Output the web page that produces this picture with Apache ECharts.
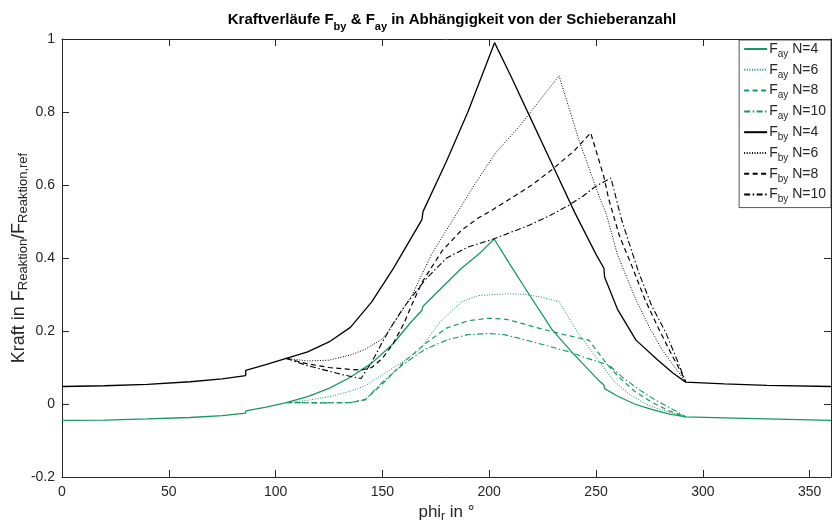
<!DOCTYPE html>
<html>
<head>
<meta charset="utf-8">
<script src="https://cdn.jsdelivr.net/npm/echarts@6.0.0/dist/echarts.min.js"></script>
<style>
  html, body { margin: 0; padding: 0; background: #fff; }
  #chart { width: 832px; height: 531px; }
</style>
</head>
<body>
<div id="chart"></div>
<script>
(function () {
  'use strict';

  // F_ay (green)
  var phiAy4 = [0, 20, 40, 60, 75, 86, 86, 95, 105, 115, 125, 134.6, 145, 155, 163, 168.5, 169, 178, 187, 195, 202.3, 210, 218.7, 229.5, 239, 251, 253.7, 254, 260, 268, 276, 284, 292, 310, 330, 360];
  var ay4 = [-0.045, -0.044, -0.041, -0.037, -0.032, -0.025, -0.019, -0.009, 0.004, 0.02, 0.043, 0.072, 0.112, 0.165, 0.222, 0.257, 0.268, 0.32, 0.372, 0.41, 0.452, 0.38, 0.30, 0.203, 0.14, 0.066, 0.052, 0.042, 0.022, 0.0, -0.015, -0.027, -0.035, -0.038, -0.041, -0.045];
  var phiAy6 = [105, 115, 125, 135, 142, 150, 158, 167, 177, 187, 195, 203, 210, 217, 225, 232.7, 241, 251, 258, 266, 275, 284, 292];
  var ay6 = [0.004, 0.01, 0.02, 0.035, 0.05, 0.08, 0.11, 0.145, 0.225, 0.28, 0.297, 0.30, 0.302, 0.30, 0.292, 0.28, 0.2, 0.12, 0.065, 0.025, -0.005, -0.022, -0.035];
  var phiAy8 = [105, 120, 135, 142, 150, 160, 170, 180, 190, 200, 208, 215.6, 225, 235, 246.7, 254.7, 260.7, 268, 276, 284, 292];
  var ay8 = [0.004, 0.003, 0.004, 0.012, 0.055, 0.115, 0.165, 0.208, 0.228, 0.235, 0.232, 0.22, 0.205, 0.19, 0.175, 0.112, 0.074, 0.035, 0.005, -0.018, -0.035];
  var phiAy10 = [105, 120, 135, 142, 150, 160, 170, 180, 190, 200, 207, 214, 225, 237.4, 246, 253, 256, 262, 270, 278, 286, 292];
  var ay10 = [0.004, 0.003, 0.004, 0.012, 0.06, 0.11, 0.15, 0.175, 0.19, 0.193, 0.19, 0.18, 0.163, 0.143, 0.125, 0.112, 0.107, 0.075, 0.04, 0.01, -0.015, -0.035];

  // F_by (black)
  var phiBy4 = [0, 20, 40, 60, 75, 86, 86, 95, 105, 115, 125, 135, 145, 155, 162, 168.5, 169, 180, 190, 195.3, 202.5, 210, 220, 230, 240, 250, 253.7, 254, 260, 268.7, 279, 286, 292, 310, 330, 360];
  var by4 = [0.048, 0.050, 0.054, 0.061, 0.069, 0.078, 0.092, 0.107, 0.125, 0.143, 0.17, 0.21, 0.28, 0.37, 0.44, 0.505, 0.527, 0.665, 0.8, 0.88, 0.99, 0.9, 0.775, 0.65, 0.525, 0.41, 0.372, 0.348, 0.26, 0.175, 0.12, 0.085, 0.06, 0.055, 0.051, 0.048];
  var phiBy6 = [105, 115, 125, 135, 142, 150, 157, 164, 173, 183, 193, 203, 214, 223, 232.7, 242, 252, 254.7, 260, 268.7, 275, 281, 287, 292];
  var by6 = [0.125, 0.118, 0.12, 0.134, 0.15, 0.178, 0.235, 0.30, 0.41, 0.505, 0.6, 0.688, 0.76, 0.827, 0.899, 0.723, 0.56, 0.523, 0.41, 0.285, 0.21, 0.148, 0.1, 0.06];
  var phiBy8 = [105, 115, 125, 134.6, 140, 145, 150, 155, 160, 164, 168.7, 178, 187, 195, 201, 210, 220, 230, 240, 247.5, 253.7, 256, 261, 267, 273, 279, 285, 290, 292];
  var by8 = [0.125, 0.11, 0.1, 0.095, 0.093, 0.1, 0.125, 0.165, 0.22, 0.275, 0.335, 0.42, 0.476, 0.51, 0.53, 0.563, 0.6, 0.645, 0.695, 0.743, 0.622, 0.56, 0.46, 0.375, 0.285, 0.21, 0.14, 0.085, 0.06];
  var phiBy10 = [105, 115, 125, 133, 140, 145, 150, 155, 160, 170, 180, 190, 202, 210, 218.7, 228, 237.4, 244, 250, 257, 262, 270, 276, 282.7, 288, 292];
  var by10 = [0.125, 0.105, 0.09, 0.078, 0.07, 0.115, 0.17, 0.22, 0.265, 0.34, 0.40, 0.43, 0.452, 0.47, 0.49, 0.515, 0.545, 0.57, 0.597, 0.619, 0.504, 0.36, 0.27, 0.195, 0.12, 0.06];

  var legendSub = ['ay', 'ay', 'ay', 'ay', 'by', 'by', 'by', 'by'];
  var legendN = ['N=4', 'N=6', 'N=8', 'N=10', 'N=4', 'N=6', 'N=8', 'N=10'];

  var GREEN = '#17995f';
  var INK = '#262626';
  var FONT = '"Liberation Sans", Arial, Helvetica, sans-serif';

  var DOT = [1, 1.6];
  var DASH = [5, 3.5];
  var DASHDOT = [6, 2.5, 1.5, 2.5];

  function pairs(xs, ys) {
    return xs.map(function (x, i) { return [x, ys[i]]; });
  }

  function line(name, xs, ys, color, type, width) {
    return {
      name: name,
      type: 'line',
      data: pairs(xs, ys),
      symbol: 'none',
      showSymbol: false,
      silent: true,
      itemStyle: { color: color },
      lineStyle: { color: color, width: width, type: type }
    };
  }

  var series = [
    line('ay4', phiAy4, ay4, GREEN, 'solid', 1.3),
    line('ay6', phiAy6, ay6, GREEN, DOT, 1),
    line('ay8', phiAy8, ay8, GREEN, DASH, 1.2),
    line('ay10', phiAy10, ay10, GREEN, DASHDOT, 1.1),
    line('by4', phiBy4, by4, '#000', 'solid', 1.3),
    line('by6', phiBy6, by6, '#000', DOT, 1),
    line('by8', phiBy8, by8, '#000', DASH, 1.2),
    line('by10', phiBy10, by10, '#000', DASHDOT, 1.1)
  ];
  var names = series.map(function (s) { return s.name; });

  var chart = echarts.init(document.getElementById('chart'));
  chart.setOption({
    animation: false,
    backgroundColor: '#fff',
    title: {
      text: '{m|Kraftverläufe F}{s|by}{m| & F}{s|ay}{m| in Abhängigkeit von der Schieberanzahl}',
      left: 447,
      top: 3,
      textAlign: 'center',
      textStyle: {
        rich: {
          m: { fontFamily: FONT, fontSize: 15, fontWeight: 'bold', color: '#000', lineHeight: 24 },
          s: { fontFamily: FONT, fontSize: 11, fontWeight: 'bold', color: '#000', lineHeight: 8, verticalAlign: 'bottom' }
        }
      }
    },
    legend: {
      data: names,
      orient: 'vertical',
      right: 1,
      top: 40,
      padding: [2, 5, 3, 4],
      itemWidth: 23,
      itemHeight: 12,
      itemGap: 3.8,
      backgroundColor: '#fff',
      borderColor: INK,
      borderWidth: 0.8,
      borderRadius: 0,
      itemStyle: { opacity: 0, borderWidth: 0 },
      formatter: function (name) {
        var i = names.indexOf(name);
        return '{m|F}{s|' + legendSub[i] + '}{m| ' + legendN[i] + '}';
      },
      textStyle: {
        padding: [0, 0, 0, -3],
        rich: {
          m: { fontFamily: FONT, fontSize: 14, color: INK, lineHeight: 20 },
          s: { fontFamily: FONT, fontSize: 10, color: INK, lineHeight: 4, verticalAlign: 'bottom' }
        }
      }
    },
    grid: { left: 62, right: 1, top: 39, bottom: 54, containLabel: false, outerBoundsMode: 'none' },
    xAxis: [{
      type: 'value',
      min: 0,
      max: 360,
      interval: 50,
      name: '{m|phi}{s|r}{m| in °}',
      nameLocation: 'middle',
      nameGap: 24,
      nameMoveOverlap: false,
      nameTextStyle: {
        rich: {
          m: { fontFamily: FONT, fontSize: 17, color: INK, lineHeight: 22 },
          s: { fontFamily: FONT, fontSize: 12, color: INK, lineHeight: 8, verticalAlign: 'bottom' }
        }
      },
      axisLine: { onZero: false, lineStyle: { color: INK, width: 1 } },
      axisTick: { inside: true, length: 7, lineStyle: { color: INK } },
      axisLabel: { color: INK, fontSize: 14, fontFamily: FONT, margin: 8, showMaxLabel: false },
      splitLine: { show: false }
    }, {
      type: 'value',
      position: 'top',
      min: 0,
      max: 360,
      interval: 50,
      axisLine: { onZero: false, lineStyle: { color: INK, width: 1 } },
      axisTick: { inside: true, length: 7, lineStyle: { color: INK } },
      axisLabel: { show: false },
      splitLine: { show: false }
    }],
    yAxis: [{
      type: 'value',
      min: -0.2,
      max: 1,
      interval: 0.2,
      name: '{m|Kraft in F}{s|Reaktion}{m|/F}{s|Reaktion,ref}',
      nameLocation: 'middle',
      nameRotate: 90,
      nameGap: 32,
      nameMoveOverlap: false,
      nameTextStyle: {
        rich: {
          m: { fontFamily: FONT, fontSize: 18, color: INK, lineHeight: 22 },
          s: { fontFamily: FONT, fontSize: 13, color: INK, lineHeight: 8, verticalAlign: 'bottom' }
        }
      },
      axisLine: { show: true, onZero: false, lineStyle: { color: INK, width: 1 } },
      axisTick: { show: true, inside: true, length: 7, lineStyle: { color: INK } },
      axisLabel: { color: INK, fontSize: 14, fontFamily: FONT, margin: 7 },
      splitLine: { show: false }
    }, {
      type: 'value',
      position: 'right',
      min: -0.2,
      max: 1,
      interval: 0.2,
      axisLine: { show: true, onZero: false, lineStyle: { color: INK, width: 1 } },
      axisTick: { show: true, inside: true, length: 7, lineStyle: { color: INK } },
      axisLabel: { show: false },
      splitLine: { show: false }
    }],
    series: series
  });
})();
</script>
</body>
</html>
